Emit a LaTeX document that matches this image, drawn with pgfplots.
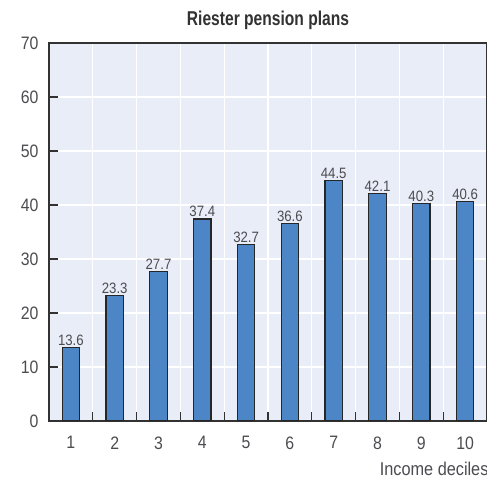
\documentclass[border=0pt]{standalone}
\usepackage{fontspec}
\setmainfont{Liberation Sans}[FakeStretch=0.88]
\newfontfamily\titlefont{Liberation Sans}[FakeStretch=0.78]
\usepackage{pgfplots}
\pgfplotsset{compat=1.18}
\definecolor{bgc}{RGB}{233,237,247}
\definecolor{barc}{RGB}{76,134,198}
\definecolor{txtc}{RGB}{75,75,80}
\definecolor{axc}{RGB}{50,50,50}
\begin{document}
\begin{tikzpicture}
\useasboundingbox (-49pt,-60pt) rectangle (438pt,421pt);
\begin{axis}[
  at={(0pt,0pt)}, anchor=origin,
  scale only axis, width=438pt, height=378pt,
  xmin=0.5, xmax=10.5, ymin=0, ymax=70,
  axis background/.style={fill=bgc},
  axis line style={axc, line width=1.2pt},
  xtick={1.5,2.5,...,9.5}, xticklabels={},
  extra x ticks={1,...,10},
  extra x tick style={major tick length=0pt, grid=none},
  ytick={0,10,...,70},
  xmajorgrids, ymajorgrids, grid style={white, line width=1.2pt},
  every tick/.style={axc, line width=1.2pt},
  major tick length=8.5pt,
  tick align=inside, xtick pos=bottom, ytick pos=left,
  /pgf/number format/assume math mode=true,
  ticklabel style={font=\fontsize{18}{19}\selectfont, text=txtc},
  yticklabel style={xshift=-7pt},
  xticklabel style={yshift=-12pt},
  title={\titlefont\bfseries Riester pension plans},
  title style={font=\fontsize{20}{21}\selectfont, text=axc, yshift=4pt},
  xlabel={Income deciles},
  xlabel style={font=\fontsize{18.5}{19}\selectfont, text=txtc, at={(1,0)}, anchor=north east, yshift=-38pt, xshift=5pt},
  nodes near coords,
  every node near coord/.append style={font=\fontsize{15}{16}\selectfont, text=txtc, yshift=-2pt},
]
\addplot[ybar, bar width=17.5pt, fill=barc, draw=black!85, line width=1.2pt,
  point meta=explicit symbolic] table[meta=l] {
x y l
1 13.6 13.6
2 23.3 23.3
3 27.7 27.7
4 37.4 37.4
5 32.7 32.7
6 36.6 36.6
7 44.5 44.5
8 42.1 42.1
9 40.3 40.3
10 40.6 40.6
};
\end{axis}
\end{tikzpicture}
\end{document}
